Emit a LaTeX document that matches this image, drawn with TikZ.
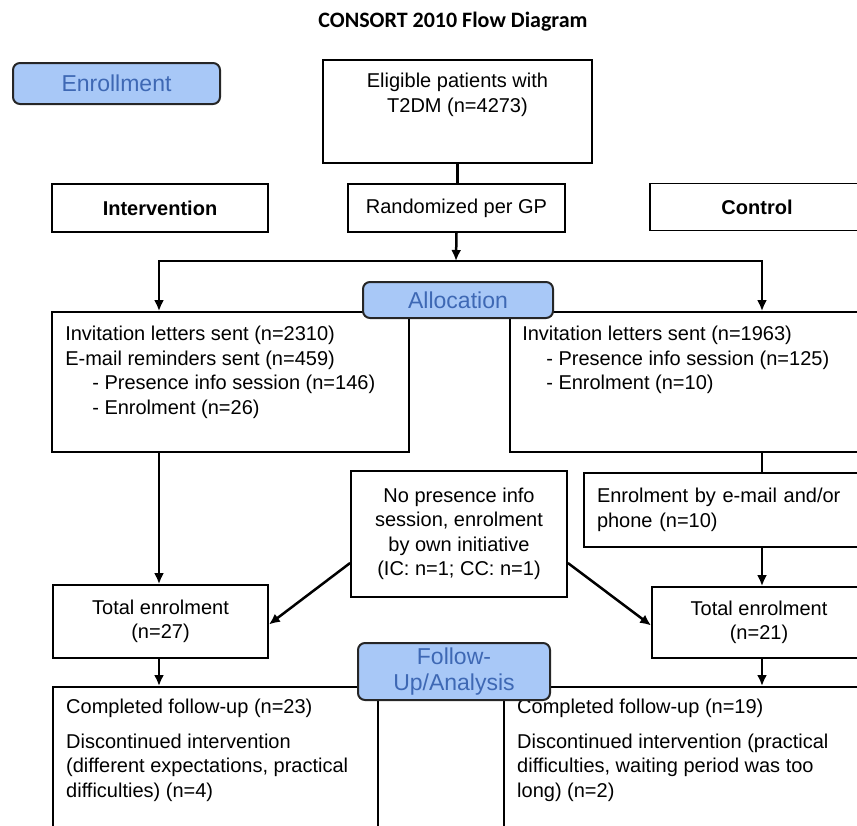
\documentclass[tikz,border=0pt]{standalone}
\usepackage{fontspec}
\setmainfont{Liberation Sans}
\newfontfamily\titlefont{Carlito}
\usetikzlibrary{arrows.meta, positioning}

\definecolor{phasefill}{RGB}{168,200,247}
\definecolor{phasetext}{RGB}{62,104,180}
\newcommand{\boxfont}{\fontsize{20}{24.5}\selectfont}

\begin{document}
\begin{tikzpicture}[x=1pt, y=-1pt, >={Latex[length=11pt,width=10pt]},
  box/.style={draw, line width=1.8pt, fill=white, inner sep=0pt, align=center, font=\boxfont},
  phase/.style={draw=black!85, line width=2pt, rounded corners=7pt, fill=phasefill,
    text=phasetext, inner sep=0pt, align=center, font=\fontsize{23}{26}\selectfont},
  txt/.style={inner sep=0pt, align=left, font=\boxfont},
  link/.style={line width=2.5pt},
  arr/.style={line width=2.5pt, ->}]

  \useasboundingbox (0,0) rectangle (857,825);
  \clip (0,0) rectangle (857,825);

  \node[font=\titlefont\bfseries\fontsize{22}{26}\selectfont] (title) at (453,22) {CONSORT 2010 Flow Diagram};

  % enrollment
  \node[phase, minimum width=207, minimum height=41] (enroll) at (116.5,83.5) {Enrollment};
  \node[box, minimum width=269, minimum height=103] (elig) at (457.5,111.5) {};
  \node[txt, align=center, below=14pt of elig.north] (eligtxt) {Eligible patients with\\T2DM (n=4273)};

  \node[box, minimum width=216, minimum height=48, font=\boxfont\bfseries] (interv) at (160,208) {Intervention};
  \node[box, minimum width=217, minimum height=48] (rand) at (456.5,208) {Randomized per GP};
  \node[box, minimum width=214, minimum height=47, font=\boxfont\bfseries] (ctrl) at (757,207) {Control};

  \coordinate (splitM) at (456,261);
  \coordinate (splitL) at (159,261);
  \coordinate (splitR) at (762,261);

  % allocation
  \node[box, minimum width=357, minimum height=140] (invI) at (230.5,382) {};
  \node[txt, below right=15pt and 14pt of invI.north west] (invItxt) {Invitation letters sent (n=2310)\\E-mail reminders sent (n=459)\\\hspace*{27pt}- Presence info session (n=146)\\\hspace*{27pt}- Enrolment (n=26)};
  \node[box, minimum width=356, minimum height=140] (invC) at (688,382) {};
  \node[txt, below right=15pt and 13pt of invC.north west] (invCtxt) {Invitation letters sent (n=1963)\\\hspace*{24pt}- Presence info session (n=125)\\\hspace*{24pt}- Enrolment (n=10)};

  \node[box, minimum width=216, minimum height=126] (nopres) at (459,534) {No presence info\\session, enrolment\\by own initiative\\(IC: n=1; CC: n=1)};
  \node[box, minimum height=74, text width=256, inner xsep=13pt, align=left] (mail) at (725,510) {Enrolment by e-mail and/or\\phone (n=10)};

  \node[box, minimum width=215, minimum height=73] (totI) at (160.5,621.5) {Total enrolment\\(n=27)};
  \node[box, minimum width=214, minimum height=71] (totC) at (759,622.5) {Total enrolment\\(n=21)};

  % follow-up
  \node[box, minimum width=325, minimum height=180, anchor=north west] (fupI) at (52,686) {};
  \node[txt, below right=13pt and 14pt of fupI.north west] (fupItxt) {Completed follow-up (n=23)\\[10pt]Discontinued intervention\\(different expectations, practical\\difficulties) (n=4)};
  \node[box, minimum width=363, minimum height=180, anchor=north west] (fupC) at (503,686) {};
  \node[txt, below right=13pt and 14pt of fupC.north west] (fupCtxt) {Completed follow-up (n=19)\\[10pt]Discontinued intervention (practical\\difficulties, waiting period was too\\long) (n=2)};

  % connectors
  \draw[link] (elig.south) -- (elig.south |- rand.north);
  \draw[arr] (rand.south) -- (splitM);
  \draw[arr] (splitM) -| (splitL |- invI.north);
  \draw[arr] (splitM) -| (splitR |- invC.north);
  \draw[arr] (splitL |- invI.south) -- (splitL |- totI.north);
  \draw[link] (splitR |- invC.south) -- (splitR |- mail.north);
  \draw[arr] (splitR |- mail.south) -- (splitR |- totC.north);
  \draw[arr] ([yshift=-29pt]nopres.west) -- ([yshift=-3pt]totI.east);
  \draw[arr] ([yshift=-29pt]nopres.east) -- ([yshift=-3pt]totC.west);
  \draw[arr] (splitL |- totI.south) -- (splitL |- fupI.north);
  \draw[arr] (splitR |- totC.south) -- (splitR |- fupC.north);

  \node[phase, minimum width=190, minimum height=36] (alloc) at (458,300) {Allocation};
  \node[phase, minimum width=192, minimum height=57] (follow) at (454,671.5) {Follow-\\Up/Analysis};

\end{tikzpicture}
\end{document}
